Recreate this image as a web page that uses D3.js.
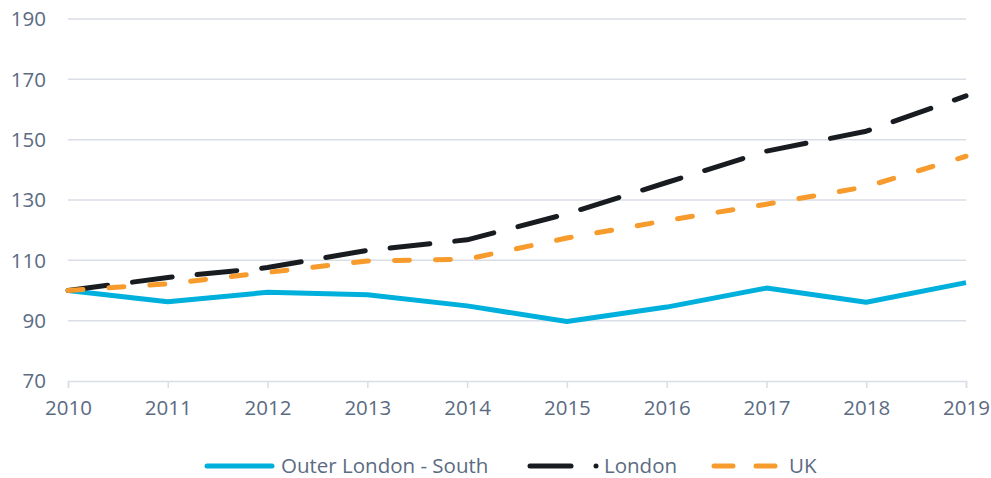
<!DOCTYPE html>
<html>
<head>
<meta charset="utf-8">
<script src="https://cdn.jsdelivr.net/npm/d3@7"></script>
<style>
  body { margin: 0; background: #fff; }
  svg { font-family: "Open Sans", sans-serif; }
</style>
</head>
<body>
<svg id="chart" width="991" height="478"></svg>
<script>
const years = [2010, 2011, 2012, 2013, 2014, 2015, 2016, 2017, 2018, 2019];
const outerSouth = [100, 96.3, 99.4, 98.6, 94.9, 89.7, 94.5, 100.8, 96.1, 102.6];
const london = [100, 104.3, 107.6, 113.3, 116.8, 125.4, 135.8, 146.2, 152.8, 164.5];
const uk = [100, 102.2, 106.0, 109.8, 110.4, 117.4, 123.2, 128.6, 134.4, 144.5];
const yTicks = [70, 90, 110, 130, 150, 170, 190];

const series = [
  { name: "Outer London - South", values: outerSouth, color: "#00b0dc", dash: null, cap: "butt" },
  { name: "London", values: london, color: "#181c21", dash: "40,25", cap: "round" },
  { name: "UK", values: uk, color: "#f89b2d", dash: "15,26", cap: "round" }
];

const svg = d3.select("#chart");
const textColor = "#5b6b82";
const gridColor = "#d9dde5";
const fontSize = 20.5;

const x = d3.scaleLinear().domain([2010, 2019]).range([68, 966]);
const y = d3.scaleLinear().domain([70, 190]).range([381, 19]);

// gridlines
svg.append("g")
  .selectAll("line")
  .data(yTicks.filter(d => d > 70))
  .enter()
  .append("line")
  .attr("x1", x(2010))
  .attr("x2", x(2019))
  .attr("y1", d => y(d))
  .attr("y2", d => y(d))
  .attr("stroke", gridColor)
  .attr("stroke-width", 1.5);

// y labels
svg.append("g")
  .selectAll("text")
  .data(yTicks)
  .enter()
  .append("text")
  .attr("x", 46)
  .attr("y", d => y(d))
  .attr("dy", "0.36em")
  .attr("text-anchor", "end")
  .attr("fill", textColor)
  .attr("font-size", fontSize)
  .text(d => d);

// x axis
const xAxis = svg.append("g")
  .attr("transform", `translate(0,${y(70)})`)
  .call(d3.axisBottom(x).tickValues(years).tickFormat(d3.format("d")).tickSize(7).tickPadding(12));
xAxis.select(".domain").attr("stroke", gridColor).attr("stroke-width", 1.5);
xAxis.selectAll(".tick line").attr("stroke", gridColor).attr("stroke-width", 1.5);
xAxis.selectAll(".tick text")
  .attr("fill", textColor)
  .attr("font-size", fontSize)
  .attr("font-family", "Open Sans, sans-serif");

// lines
const line = d3.line()
  .x((d, i) => x(years[i]))
  .y(d => y(d));

svg.append("g")
  .selectAll("path")
  .data(series)
  .enter()
  .append("path")
  .attr("fill", "none")
  .attr("stroke", d => d.color)
  .attr("stroke-width", 5)
  .attr("stroke-linecap", d => d.cap)
  .attr("stroke-linejoin", "round")
  .attr("stroke-dasharray", d => d.dash)
  .attr("d", d => line(d.values));

// legend
const legendY = 466;
const legend = svg.append("g");

legend.append("line")
  .attr("x1", 207).attr("x2", 272)
  .attr("y1", legendY).attr("y2", legendY)
  .attr("stroke", series[0].color).attr("stroke-width", 5).attr("stroke-linecap", "round");
legend.append("text")
  .attr("x", 281).attr("y", legendY).attr("dy", "0.36em")
  .attr("fill", textColor).attr("font-size", fontSize)
  .text(series[0].name);

legend.append("line")
  .attr("x1", 530).attr("x2", 571)
  .attr("y1", legendY).attr("y2", legendY)
  .attr("stroke", series[1].color).attr("stroke-width", 5).attr("stroke-linecap", "round");
legend.append("circle")
  .attr("cx", 596).attr("cy", legendY).attr("r", 2.5)
  .attr("fill", series[1].color);
legend.append("text")
  .attr("x", 604).attr("y", legendY).attr("dy", "0.36em")
  .attr("fill", textColor).attr("font-size", fontSize)
  .text(series[1].name);

legend.append("line")
  .attr("x1", 714).attr("x2", 776)
  .attr("y1", legendY).attr("y2", legendY)
  .attr("stroke", series[2].color).attr("stroke-width", 5).attr("stroke-linecap", "round")
  .attr("stroke-dasharray", "19,23");
legend.append("text")
  .attr("x", 789).attr("y", legendY).attr("dy", "0.36em")
  .attr("fill", textColor).attr("font-size", fontSize)
  .text(series[2].name);
</script>
</body>
</html>
